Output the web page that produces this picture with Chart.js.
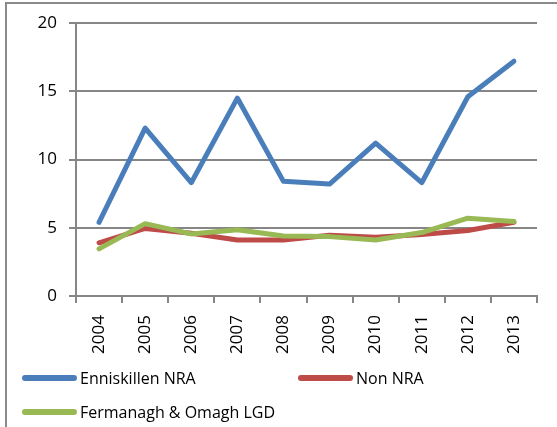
<!DOCTYPE html>
<html>
<head>
<meta charset="utf-8">
<script src="https://cdn.jsdelivr.net/npm/chart.js@4/dist/chart.umd.min.js"></script>
<style>
    body { margin: 0; background: #fff; overflow: hidden; }
    .contenedor { position: relative; width: 557px; height: 427px; overflow: hidden; }
    .marco { position: absolute; left: 5px; top: 2px; width: 700px; height: 600px; border: 2px solid #8a8a8a; box-sizing: border-box; }
    .leyenda_item { position: absolute; display: flex; align-items: center; font-family: "Open Sans", sans-serif; font-size: 16px; color: #000; height: 20px; white-space: nowrap; }
    .leyenda_linea { width: 55px; height: 6px; border-radius: 3px; margin-right: 3px; }
</style>
</head>
<body>
<div class="contenedor">
    <div class="marco"></div>
    <canvas id="grafico"></canvas>
    <div id="leyenda"></div>
</div>
<script>
const anios = ['2004', '2005', '2006', '2007', '2008', '2009', '2010', '2011', '2012', '2013'];

const enniskillen = [5.4, 12.3, 8.3, 14.5, 8.4, 8.2, 11.2, 8.3, 14.6, 17.2];
const nonNra = [3.9, 4.95, 4.6, 4.1, 4.1, 4.45, 4.3, 4.5, 4.8, 5.4];
const fermanagh = [3.45, 5.3, 4.55, 4.85, 4.4, 4.35, 4.1, 4.65, 5.7, 5.45];

const ticksY = [0, 5, 10, 15, 20];

const colorGris = '#868686';

// posiciones de la leyenda (como en la imagen)
const posLeyenda = [
    { left: 22, top: 368 },
    { left: 298, top: 368 },
    { left: 22, top: 402 },
];

let crearSerie = (nombre, datos, color, orden) => {
    return {
        label: nombre,
        data: datos,
        borderColor: color,
        backgroundColor: color,
        borderWidth: 5,
        borderCapStyle: 'round',
        borderJoinStyle: 'round',
        pointRadius: 0,
        tension: 0,
        order: orden,
    };
};

let crearLeyenda = (grafico) => {
    let leyendaHTML = '';
    // orden original de las series, no el de dibujo
    let series = [grafico.data.datasets[0], grafico.data.datasets[1], grafico.data.datasets[2]];
    series.forEach((serie, i) => {
        leyendaHTML += `
            <div class="leyenda_item" style="left:${posLeyenda[i].left}px; top:${posLeyenda[i].top}px">
                <div class="leyenda_linea" style="background:${serie.borderColor}"></div>
                <span>${serie.label}</span>
            </div>`;
    });
    document.getElementById('leyenda').innerHTML = leyendaHTML;
};

let contexto = document.getElementById('grafico').getContext('2d');

let grafico = new Chart(contexto, {
    type: 'line',
    data: {
        labels: anios,
        datasets: [
            crearSerie('Enniskillen NRA', enniskillen, '#4a7ebb', 0),
            crearSerie('Non NRA', nonNra, '#be4b48', 2),
            crearSerie('Fermanagh & Omagh LGD', fermanagh, '#98b954', 1),
        ],
    },
    options: {
        responsive: true,
        maintainAspectRatio: false,
        animation: false,
        layout: {
            padding: { left: 0, top: 23, right: 20, bottom: 71 },
        },
        plugins: {
            legend: { display: false },
            tooltip: { enabled: false },
        },
        scales: {
            x: {
                offset: true,
                grid: {
                    offset: true,
                    drawOnChartArea: false,
                    color: colorGris,
                    lineWidth: 2,
                    tickLength: 7,
                },
                border: { color: colorGris, width: 2 },
                ticks: {
                    minRotation: 90,
                    maxRotation: 90,
                    padding: 12,
                    color: '#000',
                    font: { family: 'Open Sans', size: 17 },
                },
                afterFit: (escala) => { escala.height = 60; },
            },
            y: {
                min: 0,
                max: 20,
                afterBuildTicks: (escala) => { escala.ticks = ticksY.map(v => ({ value: v })); },
                grid: {
                    color: colorGris,
                    lineWidth: 2,
                    tickLength: 7,
                },
                border: { color: colorGris, width: 2 },
                ticks: {
                    padding: 12,
                    color: '#000',
                    font: { family: 'Open Sans', size: 17 },
                },
                afterFit: (escala) => { escala.width = 76; },
            },
        },
    },
});

crearLeyenda(grafico);
</script>
</body>
</html>
